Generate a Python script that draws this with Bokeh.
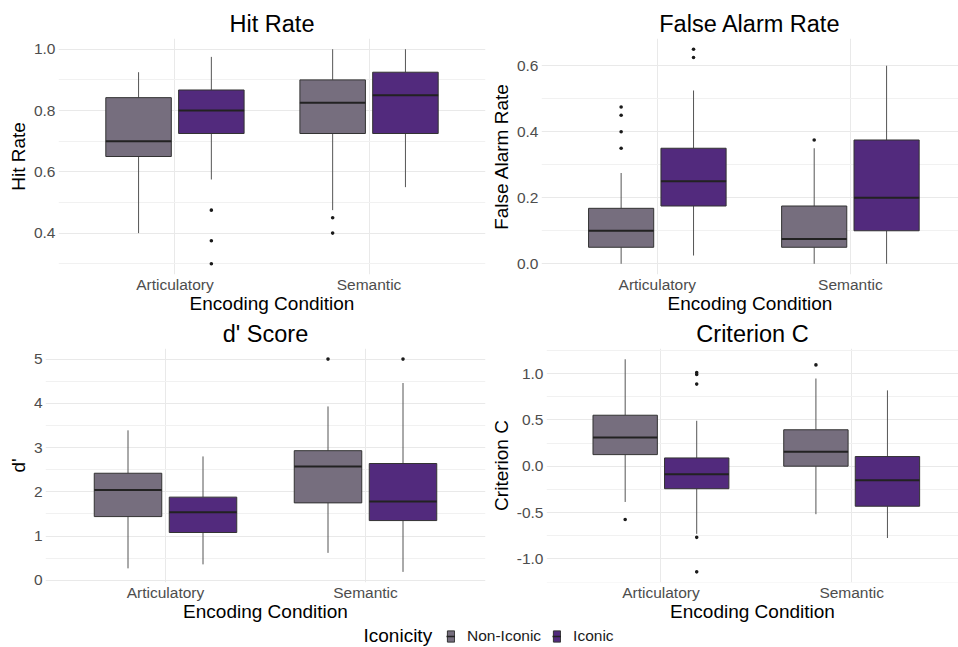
from bokeh.plotting import figure
from bokeh.layouts import column, row
from bokeh.models import (Range1d, FixedTicker, ColumnDataSource, Legend, LegendItem, Label,
                          PrintfTickFormatter)
from bokeh.embed import file_html
from bokeh.resources import INLINE

# ---------------- data ----------------
conditions = ["Articulatory", "Semantic"]
groups = ["Non-Iconic", "Iconic"]
# order of boxes: Articulatory/Non-Iconic, Articulatory/Iconic, Semantic/Non-Iconic, Semantic/Iconic
box_cond = ["Articulatory", "Articulatory", "Semantic", "Semantic"]
box_group = ["Non-Iconic", "Iconic", "Non-Iconic", "Iconic"]

hit_lower = [0.40, 0.575, 0.475, 0.55]
hit_q1 = [0.65, 0.725, 0.725, 0.725]
hit_med = [0.70, 0.80, 0.825, 0.85]
hit_q3 = [0.842, 0.867, 0.90, 0.925]
hit_upper = [0.925, 0.975, 1.0, 1.0]
hit_out_cond = ["Articulatory", "Articulatory", "Articulatory", "Semantic", "Semantic"]
hit_out_group = ["Iconic", "Iconic", "Iconic", "Non-Iconic", "Non-Iconic"]
hit_out_val = [0.475, 0.375, 0.30, 0.45, 0.40]

fa_lower = [0.0, 0.025, 0.0, 0.0]
fa_q1 = [0.05, 0.175, 0.05, 0.10]
fa_med = [0.10, 0.25, 0.075, 0.20]
fa_q3 = [0.168, 0.35, 0.175, 0.375]
fa_upper = [0.275, 0.525, 0.35, 0.60]
fa_out_cond = ["Articulatory"] * 6 + ["Semantic"]
fa_out_group = ["Non-Iconic"] * 4 + ["Iconic"] * 2 + ["Non-Iconic"]
fa_out_val = [0.35, 0.40, 0.45, 0.475, 0.625, 0.65, 0.375]

d_lower = [0.27, 0.36, 0.62, 0.19]
d_q1 = [1.44, 1.08, 1.75, 1.35]
d_med = [2.04, 1.54, 2.57, 1.78]
d_q3 = [2.42, 1.88, 2.93, 2.64]
d_upper = [3.39, 2.80, 3.93, 4.46]
d_out_cond = ["Semantic", "Semantic"]
d_out_group = ["Non-Iconic", "Iconic"]
d_out_val = [5.0, 5.0]

c_lower = [-0.386, -0.73, -0.518, -0.775]
c_q1 = [0.125, -0.243, 0.0, -0.432]
c_med = [0.31, -0.086, 0.157, -0.153]
c_q3 = [0.55, 0.089, 0.393, 0.104]
c_upper = [1.154, 0.49, 0.946, 0.818]
c_out_cond = ["Articulatory", "Articulatory", "Articulatory", "Articulatory", "Articulatory", "Articulatory", "Semantic"]
c_out_group = ["Non-Iconic", "Iconic", "Iconic", "Iconic", "Iconic", "Iconic", "Non-Iconic"]
c_out_val = [-0.575, 1.01, 0.99, 0.886, -0.768, -1.14, 1.093]

# ---------------- style ----------------
FONT = "Liberation Sans"
COLORS = {"Non-Iconic": "#766E7E", "Iconic": "#522A7D"}
DODGE = 0.1875
BOX_W = 0.3375


def xpos(cond, grp):
    return conditions.index(cond) + 1 + (-DODGE if grp == "Non-Iconic" else DODGE)


def panel(title, ylabel, lower, q1, med, q3, upper, oc, og, ov, yr, xr, major, minor, fmt,
          width, height, mbl, mbr, mbt, mbb, tstand):
    p = figure(width=width, height=height, output_backend="svg", toolbar_location=None,
               x_range=Range1d(*xr), y_range=Range1d(*yr),
               min_border_left=mbl, min_border_right=mbr, min_border_top=mbt,
               min_border_bottom=mbb, title=title)
    p.outline_line_color = None
    p.background_fill_color = "white"
    p.border_fill_color = "white"
    p.title.align = "center"
    p.title.text_font = FONT
    p.title.text_font_size = "23.5px"
    p.title.text_font_style = "normal"
    p.title.text_color = "#000000"
    p.title.standoff = tstand

    xs = [xpos(c, g) for c, g in zip(box_cond, box_group)]
    src = ColumnDataSource(dict(
        x=xs, x0=[x - BOX_W / 2 for x in xs], x1=[x + BOX_W / 2 for x in xs],
        lower=lower, q1=q1, med=med, q3=q3, upper=upper,
        color=[COLORS[g] for g in box_group]))
    p.segment(x0="x", x1="x", y0="lower", y1="q1", source=src, line_color="#555555", line_width=1)
    p.segment(x0="x", x1="x", y0="q3", y1="upper", source=src, line_color="#555555", line_width=1)
    p.vbar(x="x", width=BOX_W, bottom="q1", top="q3", source=src, fill_color="color",
           line_color="#333333", line_width=1)
    p.segment(x0="x0", x1="x1", y0="med", y1="med", source=src, line_color="#222222", line_width=2)
    osrc = ColumnDataSource(dict(x=[xpos(c, g) for c, g in zip(oc, og)], y=ov))
    p.scatter(x="x", y="y", source=osrc, marker="circle", size=3.6,
              fill_color="#1A1A1A", line_color=None)

    p.xaxis.ticker = FixedTicker(ticks=[1, 2])
    p.xaxis.major_label_overrides = {1: conditions[0], 2: conditions[1]}
    p.yaxis.ticker = FixedTicker(ticks=major, minor_ticks=minor)
    p.yaxis.formatter = PrintfTickFormatter(format=fmt)
    for ax in (p.xaxis[0], p.yaxis[0]):
        ax.axis_line_color = None
        ax.major_tick_line_color = None
        ax.minor_tick_line_color = None
        ax.major_tick_out = 0
        ax.major_tick_in = 0
        ax.minor_tick_out = 0
        ax.minor_tick_in = 0
        ax.major_label_text_font = FONT
        ax.major_label_text_font_size = "15.5px"
        ax.major_label_text_color = "#4D4D4D"
        ax.major_label_standoff = 3
        ax.axis_label_text_font = FONT
        ax.axis_label_text_font_size = "19px"
        ax.axis_label_text_font_style = "normal"
        ax.axis_label_text_color = "#000000"
        ax.axis_label_standoff = 2
    p.xaxis.axis_label = "Encoding Condition"
    p.xaxis.major_label_standoff = 1
    p.xaxis.axis_label_standoff = -3
    p.yaxis.axis_label = ylabel
    p.xgrid.grid_line_color = "#E9E9E9"
    p.xgrid.grid_line_width = 1
    p.ygrid.grid_line_color = "#E9E9E9"
    p.ygrid.grid_line_width = 1
    p.ygrid.minor_grid_line_color = "#F1F1F1"
    p.ygrid.minor_grid_line_width = 1
    return p


p1 = panel("Hit Rate", "Hit Rate", hit_lower, hit_q1, hit_med, hit_q3, hit_upper,
           hit_out_cond, hit_out_group, hit_out_val, (0.265, 1.035), (0.4, 2.6),
           [0.4, 0.6, 0.8, 1.0], [0.3, 0.5, 0.7, 0.9], "%.1f", 487, 316, 58, 2, 38, 42, 3)
p2 = panel("False Alarm Rate", "False Alarm Rate", fa_lower, fa_q1, fa_med, fa_q3, fa_upper,
           fa_out_cond, fa_out_group, fa_out_val, (-0.0325, 0.6825), (0.4, 2.56),
           [0.0, 0.2, 0.4, 0.6], [0.1, 0.3, 0.5], "%.1f", 471, 316, 51, 0, 38, 42, 3)
p3 = panel("d' Score", "d'", d_lower, d_q1, d_med, d_q3, d_upper,
           d_out_cond, d_out_group, d_out_val, (-0.05, 5.24), (0.4, 2.6),
           [0, 1, 2, 3, 4, 5], [0.5, 1.5, 2.5, 3.5, 4.5], "%d", 487, 308, 45, 2, 31, 42, 4)
p4 = panel("Criterion C", "Criterion C", c_lower, c_q1, c_med, c_q3, c_upper,
           c_out_cond, c_out_group, c_out_val, (-1.255, 1.27), (0.4, 2.56),
           [-1.0, -0.5, 0.0, 0.5, 1.0], [-1.25, -0.75, -0.25, 0.25, 0.75, 1.25], "%.1f",
           471, 308, 56, 0, 31, 42, 4)

# ---------------- legend strip ----------------
leg = figure(width=958, height=23, output_backend="svg", toolbar_location=None,
             x_range=Range1d(0, 1), y_range=Range1d(0, 1),
             x_axis_location=None, y_axis_location=None,
             min_border_left=0, min_border_right=0, min_border_top=0, min_border_bottom=0)
leg.outline_line_color = None
leg.xgrid.visible = False
leg.ygrid.visible = False
items = []
for g in groups:
    # proxy glyphs (placed outside the visible range) that only feed the legend keys
    proxy = ColumnDataSource(dict(x=[5], y0=[5], y1=[6], x0=[5], x1=[6]))
    rb = leg.vbar(x="x", width=0.1, bottom="y0", top="y1", source=proxy,
                  fill_color=COLORS[g], line_color="#333333", line_width=1)
    rm = leg.segment(x0="x0", x1="x1", y0="y0", y1="y0", source=proxy,
                     line_color="#222222", line_width=1.5)
    items.append(LegendItem(label=g, renderers=[rb, rm]))
legend = Legend(items=items, orientation="horizontal", location=(446, 2),
                padding=0, margin=0, border_line_color=None, background_fill_alpha=0,
                glyph_width=9, glyph_height=14, label_standoff=12, spacing=11,
                label_text_font=FONT, label_text_font_size="15.5px",
                label_text_color="#1A1A1A")
leg.add_layout(legend, "center")
leg.add_layout(Label(x=363, y=12, x_units="screen", y_units="screen", text="Iconicity",
                     text_baseline="middle", text_align="left", text_font=FONT,
                     text_font_size="19px", text_color="#000000"))

layout = column(row(p1, p2), row(p3, p4), leg)
open("out.html", "w").write(file_html(layout, INLINE))
